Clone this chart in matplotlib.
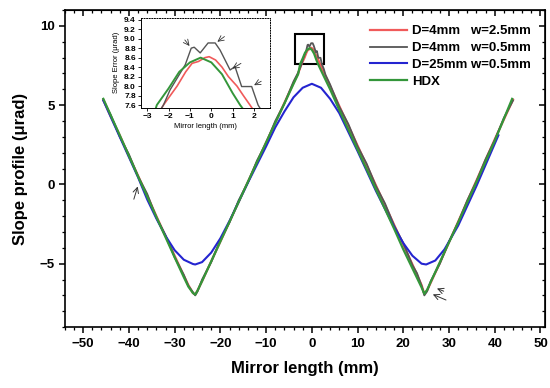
import matplotlib.pyplot as plt
from matplotlib.patches import Rectangle

plt.rcParams['font.family'] = ['Liberation Sans', 'DejaVu Sans']
plt.rcParams['font.weight'] = 'bold'

# ---- data ----
x_red = [-45.6, -44, -42, -40, -38, -36, -34, -32, -30, -28, -27, -26, -25.5, -25, -24, -22,
         -20, -18, -16, -14, -12, -10, -8, -6, -4, -3, -2.24, -2.0, -1.6, -1.2, -0.9, -0.6,
         -0.3, -0.1, 0.2, 0.5, 0.8, 1.2, 1.5, 1.81, 2.5, 3, 4, 6, 8, 10, 12, 14, 16, 18, 20,
         22, 23, 24, 24.6, 25.2, 26, 28, 30, 32, 34, 36, 38, 40, 42, 44]
y_red = [5.35, 4.3, 3.1, 1.8, 0.55, -0.7, -2.0, -3.25, -4.5, -5.75, -6.35, -6.85, -6.95, -6.7,
         -6.1, -4.85, -3.6, -2.35, -1.1, 0.15, 1.4, 2.65, 3.9, 5.15, 6.4, 7.0, 7.6, 7.75, 8.0,
         8.3, 8.48, 8.52, 8.6, 8.62, 8.55, 8.4, 8.2, 8.0, 7.8, 7.6, 7.15, 6.85, 6.2, 4.95, 3.7,
         2.45, 1.2, -0.05, -1.3, -2.55, -3.8, -5.05, -5.7, -6.35, -6.9, -6.7, -6.2, -4.95,
         -3.65, -2.35, -1.05, 0.25, 1.55, 2.85, 4.1, 5.35]

x_gray = [-45.6, -44, -42, -40, -38, -36, -34, -32, -30, -28, -27, -26, -25.5, -25, -24, -22,
          -20, -18, -16, -14, -12, -10, -8, -6, -4, -3, -2.24, -1.93, -1.22, -0.94, -0.8,
          -0.52, -0.15, 0.18, 0.41, 0.88, 1.11, 1.42, 1.89, 2.19, 2.6, 3, 4, 6, 8, 10, 12, 14,
          16, 18, 20, 22, 23, 24, 24.6, 25.2, 26, 28, 30, 32, 34, 36, 38, 40, 42, 44]
y_gray = [5.3, 4.4, 3.0, 1.9, 0.5, -0.6, -2.1, -3.2, -4.6, -5.7, -6.4, -6.8, -7.0, -6.75,
          -6.0, -4.9, -3.5, -2.4, -1.0, 0.1, 1.5, 2.6, 4.0, 5.1, 6.5, 7.05, 7.6, 7.92, 8.45,
          8.8, 8.82, 8.7, 8.91, 8.91, 8.76, 8.34, 8.41, 7.99, 7.99, 7.6, 7.3, 6.9, 6.3, 4.9,
          3.8, 2.4, 1.3, -0.1, -1.2, -2.6, -3.7, -5.1, -5.6, -6.4, -7.0, -6.75, -6.1, -5.0,
          -3.6, -2.4, -1.0, 0.2, 1.6, 2.8, 4.2, 5.3]

x_blue = [-45.6, -42, -38, -36, -34, -32, -30, -28, -26, -25.5, -24, -22, -20, -18, -14,
          -10, -8, -6, -4, -2, 0, 2, 4, 6, 10, 14, 18, 20, 22, 24, 25, 27, 29, 32, 36, 40.8]
y_blue = [5.3, 3.0, 0.45, -0.95, -2.15, -3.25, -4.15, -4.75, -5.02, -5.05, -4.9, -4.3,
          -3.4, -2.3, 0.1, 2.4, 3.6, 4.6, 5.5, 6.1, 6.35, 6.1, 5.4, 4.5, 2.1, -0.4, -2.7,
          -3.7, -4.5, -5.0, -5.05, -4.8, -4.1, -2.6, -0.1, 3.1]

x_green = [-45.6, -42, -38, -34, -30, -28, -27, -26, -25.5, -25, -24, -22, -18, -14, -10,
           -6, -4, -3, -2.55, -2, -1.5, -1, -0.5, 0, 0.5, 1, 1.35, 2, 3, 4, 6, 10, 14, 18, 20,
           22, 23, 24, 24.6, 25.2, 26, 28, 32, 36, 40, 43.8]
y_green = [5.4, 3.1, 0.5, -2.05, -4.6, -5.85, -6.45, -6.85, -6.95, -6.7, -6.1, -4.85, -2.35,
           0.15, 2.65, 5.1, 6.35, 6.95, 7.6, 7.95, 8.3, 8.5, 8.6, 8.5, 8.25, 7.85, 7.6, 7.2,
           6.6, 6.0, 4.7, 2.2, -0.3, -2.8, -4.1, -5.3, -5.9, -6.5, -6.9, -6.65, -6.15, -4.9,
           -2.4, 0.15, 2.75, 5.4]

labels = ['D=4mm   w=2.5mm', 'D=4mm   w=0.5mm', 'D=25mm w=0.5mm', 'HDX']
colors = ['#f05a5a', '#555555', '#2424d0', '#34963a']

fig = plt.figure(figsize=(5.5, 3.88), dpi=100)
ax = fig.add_axes([0.118, 0.157, 0.873, 0.817])

ax.plot(x_red, y_red, color=colors[0], lw=1.6, label=labels[0])
ax.plot(x_gray, y_gray, color=colors[1], lw=1.3, label=labels[1])
ax.plot(x_blue, y_blue, color=colors[2], lw=1.5, label=labels[2])
ax.plot(x_green, y_green, color=colors[3], lw=1.6, label=labels[3])

ax.set_xlim(-54, 51)
ax.set_ylim(-9, 11)
ax.set_xticks(range(-50, 51, 10))
ax.set_xticks(range(-54, 51, 2), minor=True)
ax.set_yticks([-5, 0, 5, 10])
ax.set_yticks(range(-9, 12), minor=True)
ax.tick_params(which='major', direction='out', length=4, width=1.1, labelsize=9.5)
ax.tick_params(which='minor', direction='out', length=2.5, width=0.9)
for lab in ax.get_xticklabels() + ax.get_yticklabels():
    lab.set_fontweight('bold')
for s in ax.spines.values():
    s.set_linewidth(1.2)

top = ax.secondary_xaxis('top')
top.set_xticks(range(-50, 51, 10))
top.set_xticks(range(-54, 51, 2), minor=True)
top.tick_params(which='both', direction='in', labeltop=False)
top.tick_params(which='major', length=4, width=1.1)
top.tick_params(which='minor', length=2.5, width=0.9)
right = ax.secondary_yaxis('right')
right.set_yticks([-5, 0, 5, 10])
right.set_yticks(range(-9, 12), minor=True)
right.tick_params(which='both', direction='in', labelright=False)
right.tick_params(which='major', length=4, width=1.1)
right.tick_params(which='minor', length=2.5, width=0.9)

ax.set_xlabel('Mirror length (mm)', fontsize=12, fontweight='bold', labelpad=8)
ax.set_ylabel('Slope profile (\u03bcrad)', fontsize=12, fontweight='bold', labelpad=8)

ax.legend(loc='upper right', bbox_to_anchor=(0.995, 0.99), frameon=False, fontsize=9.5,
          handlelength=2.8, handletextpad=0.4, labelspacing=0.35)

ax.add_patch(Rectangle((-3.6, 7.6), 6.2, 1.9, fill=False, ec='black', lw=1.5))

arr = dict(arrowstyle='->', color='#333333', lw=0.7)
ax.annotate('', xy=(-37.9, 0.04), xytext=(-39.1, -1.1), arrowprops=arr)
ax.annotate('', xy=(26.8, -6.5), xytext=(29.4, -6.8), arrowprops=arr)
ax.annotate('', xy=(25.9, -6.87), xytext=(29.9, -7.36), arrowprops=arr)

# inset
ins = fig.add_axes([0.256, 0.722, 0.235, 0.232])
ins.plot(x_red, y_red, color=colors[0], lw=1.2)
ins.plot(x_gray, y_gray, color=colors[1], lw=1.0)
ins.plot(x_green, y_green, color=colors[3], lw=1.4)
ins.set_xlim(-3.3, 2.75)
ins.set_ylim(7.54, 9.44)
ins.set_xticks([-3, -2, -1, 0, 1, 2])
ins.set_yticks([7.6, 7.8, 8.0, 8.2, 8.4, 8.6, 8.8, 9.0, 9.2, 9.4])
ins.tick_params(labelsize=6, length=2, width=0.6, pad=1.5)
ins.spines['top'].set_linestyle(':')
ins.spines['right'].set_linestyle(':')
for s in ins.spines.values():
    s.set_linewidth(0.7)
ins.set_xlabel('Mirror length (mm)', fontsize=5.5, labelpad=2)
ins.set_ylabel('Slope Error (\u03bcrad)', fontsize=5.5, labelpad=3)

iarr = dict(arrowstyle='->', color='#333333', lw=0.6)
ins.annotate('', xy=(-0.94, 8.8), xytext=(-1.32, 9.02), arrowprops=iarr)
ins.annotate('', xy=(0.18, 8.9), xytext=(0.72, 9.08), arrowprops=iarr)
ins.annotate('', xy=(0.88, 8.34), xytext=(1.5, 8.51), arrowprops=iarr)
ins.annotate('', xy=(1.89, 7.99), xytext=(2.45, 8.13), arrowprops=iarr)

fig.savefig('out.png', dpi=100)
